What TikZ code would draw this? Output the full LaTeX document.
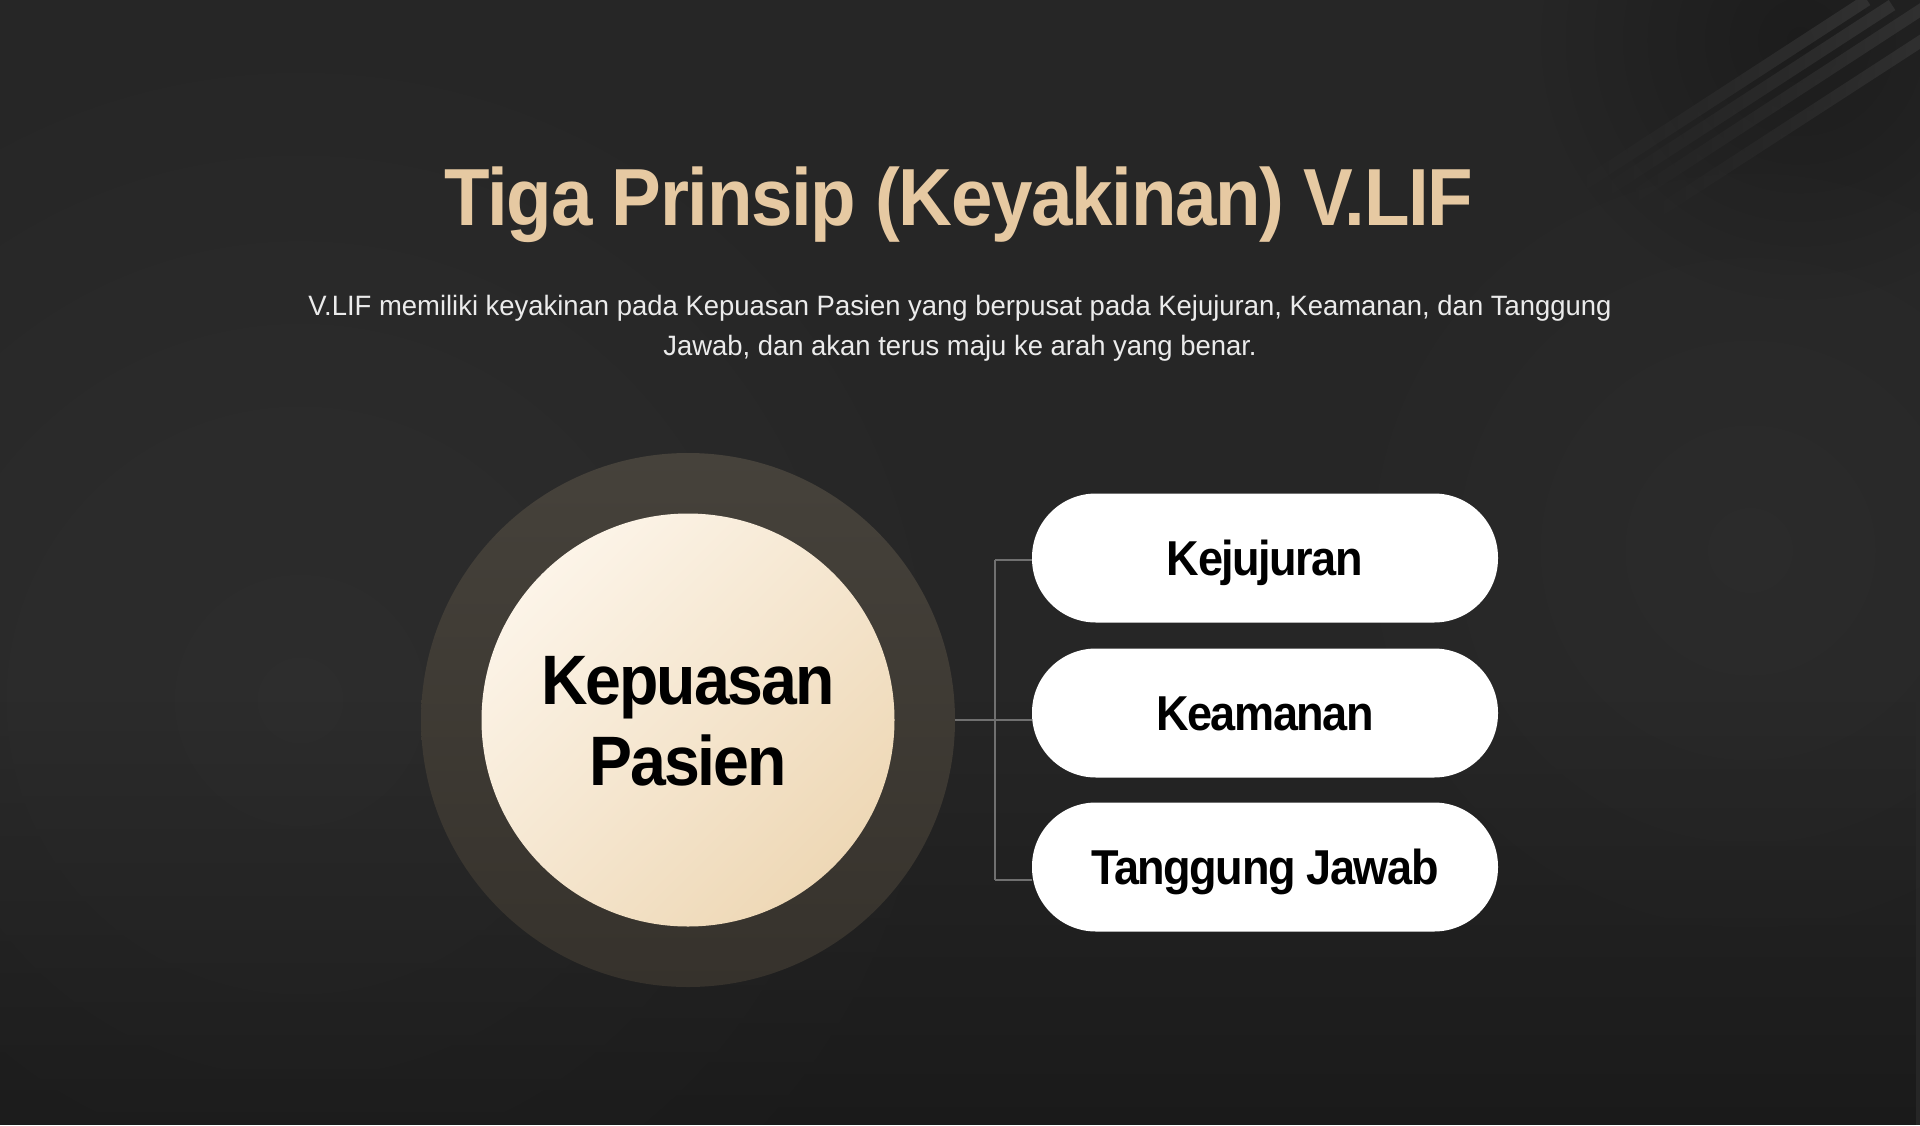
\documentclass[tikz,border=0pt]{standalone}
\usepackage{fontspec}
\usetikzlibrary{fadings}
\newfontfamily\titlefont[FakeStretch=0.92,LetterSpace=-1.7]{Liberation Sans}
\newfontfamily\headfont[FakeStretch=0.92,LetterSpace=-3]{Liberation Sans}
\newfontfamily\bodyfont[FakeStretch=0.98,LetterSpace=0]{Liberation Sans}
\definecolor{bg}{HTML}{262626}
\definecolor{titlec}{HTML}{E6C9A2}
\definecolor{subc}{HTML}{EBEBEB}
\definecolor{outertop}{HTML}{46423B}
\definecolor{outerbot}{HTML}{36322C}
\definecolor{innertop}{HTML}{FCF4E8}
\definecolor{innerbot}{HTML}{EED8B6}
\definecolor{linec}{HTML}{707070}
\definecolor{stripec}{HTML}{313131}
\tikzfading[name=fadedown, top color=transparent!100, bottom color=transparent!0]
\tikzfading[name=softspot, inner color=transparent!0, outer color=transparent!100]
\tikzfading[name=fadeleft, left color=transparent!100, right color=transparent!0]
\begin{document}
\begin{tikzpicture}[x=1pt,y=-1pt,
  titlestyle/.style={inner sep=0pt, text=titlec, font=\titlefont\bfseries\fontsize{81}{90}\selectfont},
  substyle/.style={inner sep=0pt, text=subc, font=\bodyfont\fontsize{28}{40}\selectfont},
  outerc/.style={circle, inner sep=0pt, minimum size=534pt, top color=outertop, bottom color=outerbot},
  innerc/.style={circle, inner sep=0pt, minimum size=413pt, top color=innertop, bottom color=innerbot, shading angle=45},
  kptext/.style={inner sep=0pt, text=black, font=\headfont\bfseries\fontsize{70}{81}\selectfont},
  pill/.style={rectangle, rounded corners=64pt, fill=white, minimum width=466pt, minimum height=129pt, inner sep=0pt, text=black, text height=35pt, text depth=0pt, font=\headfont\bfseries\fontsize{49}{55}\selectfont},
  conn/.style={draw=linec, line width=1.5pt},
  stripe/.style={draw=stripec, line width=12pt, path fading=fadeleft}
]
\useasboundingbox (0,0) rectangle (1920,1125);
% background
\fill[bg] (0,0) rectangle (1920,1125);
\begin{scope}
  \clip (0,0) rectangle (1920,1125);
  \fill[white, opacity=0.035, path fading=softspot] (300,700) circle (750);
  \fill[white, opacity=0.025, path fading=softspot] (1750,550) circle (500);
  \fill[black, opacity=0.3, path fading=fadedown] (0,700) rectangle (1920,1125);
  \fill[black, opacity=0.25, path fading=softspot] (1800,40) circle (260);
  \draw[stripe] (1567,195) -- (1867,0);
  \draw[stripe] (1592,200) -- (1892,5);
  \draw[stripe] (1618,207) -- (1925,7);
  \draw[stripe] (1645,220) -- (1935,32);
\end{scope}
% title
\node[titlestyle, anchor=base] (title) at (959,225) {Tiga Prinsip (Keyakinan) V.LIF};
\node[substyle, anchor=base] (sub1) at (960,315) {V.LIF memiliki keyakinan pada Kepuasan Pasien yang berpusat pada Kejujuran, Keamanan, dan Tanggung};
\node[substyle, anchor=base] (sub2) at (960,355) {Jawab, dan akan terus maju ke arah yang benar.};
% circles
\node[outerc] (outer) at (688,720) {};
\node[innerc] (inner) at (688,720) {};
\node[kptext, anchor=base] (kp1) at (688,704) {Kepuasan};
\node[kptext, anchor=base] (kp2) at (688,785) {Pasien};
% pills
\node[pill] (p1) at (1265,558) {Kejujuran};
\node[pill] (p2) at (1265,713) {Keamanan};
\node[pill] (p3) at (1265,867) {Tanggung Jawab};
% connectors
\coordinate (j) at (995,720);
\coordinate (j1) at (995,560);
\coordinate (j3) at (995,880);
\draw[conn] (outer.east) -- (j);
\draw[conn] (j1) -- (j3);
\draw[conn] (j1) -- (j1 -| p1.west);
\draw[conn] (j) -- (j -| p2.west);
\draw[conn] (j3) -- (j3 -| p3.west);
\end{tikzpicture}
\end{document}
